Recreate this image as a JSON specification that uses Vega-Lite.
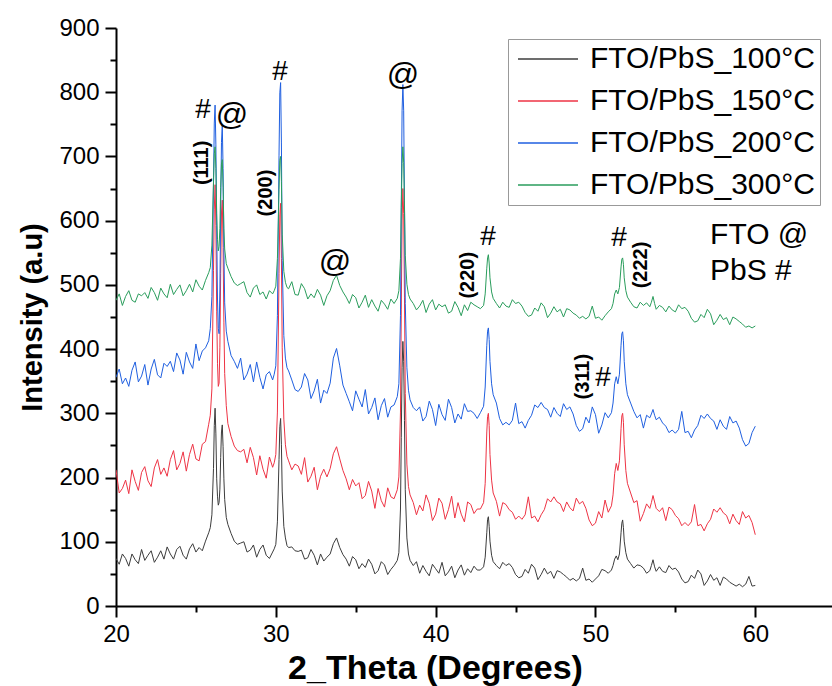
{
"$schema": "https://vega.github.io/schema/vega-lite/v6.json",
"width": 716, "height": 578,
"autosize": {"type": "none"},
"padding": {"left": 116, "top": 28, "right": 0, "bottom": 80},
"background": "white",
"config": {"font": "Liberation Sans", "view": {"stroke": null}},
"encoding": {
  "x": {"field": "x", "type": "quantitative", "scale": {"domain": [20, 64.8], "nice": false, "zero": false},
    "axis": {"values": [20,25,30,35,40,45,50,55,60], "labelExpr": "datum.value % 10 === 0 ? datum.label : ''",
      "tickSize": {"condition": {"test": "datum.value % 10 === 0", "value": 11}, "value": 6},
      "tickColor": "black", "domainColor": "black", "domainWidth": 2, "tickWidth": 2, "grid": false,
      "labelFontSize": 24, "labelColor": "black", "labelPadding": 5, "labelFlush": false,
      "title": "2_Theta (Degrees)", "titleFontSize": 34, "titleFontWeight": "bold", "titleColor": "black",
      "titleX": 319, "titleAlign": "center", "titlePadding": 5}},
  "y": {"field": "y", "type": "quantitative", "scale": {"domain": [0, 900], "nice": false},
    "axis": {"values": [0,50,100,150,200,250,300,350,400,450,500,550,600,650,700,750,800,850,900], "labelExpr": "datum.value % 100 === 0 ? datum.label : ''",
      "tickSize": {"condition": {"test": "datum.value % 100 === 0", "value": 11}, "value": 6},
      "tickColor": "black", "domainColor": "black", "domainWidth": 2, "tickWidth": 2, "grid": false,
      "labelFontSize": 24, "labelColor": "black", "labelPadding": 6, "labelFlush": false,
      "title": "Intensity (a.u)", "titleFontSize": 29, "titleFontWeight": "bold", "titleColor": "black", "titlePadding": 11}}
},
"layer": [
{
"data": {"values": [
{"x":20.0,"a":74,"b":212,"c":356,"d":476},
{"x":20.2,"a":65,"b":176,"c":369,"d":486},
{"x":20.4,"a":81,"b":183,"c":346,"d":468},
{"x":20.6,"a":74,"b":196,"c":355,"d":482},
{"x":20.8,"a":62,"b":175,"c":342,"d":491},
{"x":21.0,"a":81,"b":212,"c":367,"d":476},
{"x":21.2,"a":72,"b":194,"c":380,"d":473},
{"x":21.4,"a":66,"b":180,"c":349,"d":486},
{"x":21.6,"a":88,"b":208,"c":358,"d":483},
{"x":21.8,"a":71,"b":217,"c":376,"d":488},
{"x":22.0,"a":79,"b":195,"c":344,"d":479},
{"x":22.2,"a":86,"b":186,"c":369,"d":496},
{"x":22.4,"a":68,"b":215,"c":384,"d":488},
{"x":22.6,"a":76,"b":228,"c":360,"d":476},
{"x":22.8,"a":86,"b":205,"c":355,"d":495},
{"x":23.0,"a":73,"b":215,"c":378,"d":486},
{"x":23.2,"a":92,"b":202,"c":373,"d":480},
{"x":23.4,"a":81,"b":228,"c":381,"d":501},
{"x":23.6,"a":73,"b":242,"c":365,"d":485},
{"x":23.8,"a":88,"b":212,"c":394,"d":493},
{"x":24.0,"a":93,"b":222,"c":383,"d":500},
{"x":24.2,"a":79,"b":240,"c":361,"d":483},
{"x":24.4,"a":73,"b":210,"c":395,"d":491},
{"x":24.6,"a":89,"b":236,"c":380,"d":501},
{"x":24.8,"a":97,"b":252,"c":370,"d":489},
{"x":25.0,"a":84,"b":229,"c":408,"d":508},
{"x":25.2,"a":91,"b":226,"c":382,"d":498},
{"x":25.4,"a":86,"b":252,"c":397,"d":492},
{"x":25.6,"a":101,"b":256,"c":402,"d":507},
{"x":25.8,"a":114,"b":283,"c":413,"d":519},
{"x":25.9,"a":122,"b":297,"c":432,"d":527},
{"x":26.0,"a":142,"b":338,"c":482,"d":562},
{"x":26.1,"a":214,"b":522,"c":658,"d":660},
{"x":26.15,"a":281,"b":618,"c":752,"d":704},
{"x":26.2,"a":308,"b":656,"c":780,"d":715},
{"x":26.25,"a":268,"b":592,"c":718,"d":681},
{"x":26.3,"a":198,"b":458,"c":592,"d":611},
{"x":26.35,"a":171,"b":378,"c":478,"d":571},
{"x":26.4,"a":157,"b":342,"c":432,"d":553},
{"x":26.45,"a":161,"b":347,"c":424,"d":560},
{"x":26.5,"a":182,"b":402,"c":492,"d":588},
{"x":26.55,"a":231,"b":518,"c":618,"d":652},
{"x":26.6,"a":271,"b":612,"c":722,"d":688},
{"x":26.65,"a":282,"b":632,"c":749,"d":695},
{"x":26.7,"a":248,"b":558,"c":681,"d":652},
{"x":26.75,"a":198,"b":442,"c":558,"d":588},
{"x":26.8,"a":166,"b":362,"c":472,"d":556},
{"x":26.9,"a":138,"b":312,"c":428,"d":533},
{"x":27.0,"a":127,"b":284,"c":412,"d":526},
{"x":27.2,"a":113,"b":264,"c":390,"d":513},
{"x":27.4,"a":101,"b":249,"c":381,"d":503},
{"x":27.6,"a":96,"b":242,"c":370,"d":499},
{"x":27.8,"a":98,"b":240,"c":386,"d":502},
{"x":28.0,"a":100,"b":244,"c":352,"d":505},
{"x":28.2,"a":84,"b":223,"c":361,"d":488},
{"x":28.4,"a":87,"b":247,"c":376,"d":481},
{"x":28.6,"a":95,"b":231,"c":349,"d":495},
{"x":28.8,"a":76,"b":204,"c":380,"d":500},
{"x":29.0,"a":88,"b":234,"c":356,"d":485},
{"x":29.2,"a":95,"b":213,"c":338,"d":489},
{"x":29.4,"a":79,"b":199,"c":360,"d":478},
{"x":29.6,"a":74,"b":232,"c":365,"d":491},
{"x":29.8,"a":84,"b":216,"c":352,"d":486},
{"x":29.9,"a":89,"b":223,"c":361,"d":491},
{"x":30.0,"a":96,"b":236,"c":374,"d":498},
{"x":30.1,"a":131,"b":302,"c":452,"d":541},
{"x":30.2,"a":228,"b":518,"c":702,"d":648},
{"x":30.25,"a":279,"b":609,"c":799,"d":694},
{"x":30.3,"a":292,"b":627,"c":815,"d":700},
{"x":30.35,"a":251,"b":541,"c":721,"d":661},
{"x":30.4,"a":179,"b":402,"c":538,"d":579},
{"x":30.5,"a":124,"b":291,"c":421,"d":521},
{"x":30.6,"a":106,"b":251,"c":386,"d":504},
{"x":30.7,"a":94,"b":233,"c":371,"d":496},
{"x":30.8,"a":91,"b":226,"c":366,"d":494},
{"x":31.0,"a":92,"b":212,"c":352,"d":505},
{"x":31.2,"a":86,"b":221,"c":337,"d":485},
{"x":31.4,"a":85,"b":218,"c":334,"d":484},
{"x":31.6,"a":87,"b":205,"c":341,"d":502},
{"x":31.8,"a":73,"b":231,"c":362,"d":494},
{"x":32.0,"a":75,"b":193,"c":352,"d":478},
{"x":32.2,"a":88,"b":202,"c":323,"d":486},
{"x":32.4,"a":79,"b":216,"c":335,"d":480},
{"x":32.6,"a":64,"b":181,"c":353,"d":493},
{"x":32.8,"a":81,"b":202,"c":316,"d":484},
{"x":33.0,"a":70,"b":213,"c":336,"d":468},
{"x":33.2,"a":76,"b":201,"c":331,"d":483},
{"x":33.4,"a":81,"b":214,"c":347,"d":491},
{"x":33.6,"a":97,"b":237,"c":386,"d":507},
{"x":33.8,"a":106,"b":248,"c":401,"d":515},
{"x":34.0,"a":91,"b":229,"c":374,"d":499},
{"x":34.2,"a":80,"b":211,"c":344,"d":489},
{"x":34.4,"a":73,"b":198,"c":331,"d":481},
{"x":34.6,"a":62,"b":181,"c":318,"d":471},
{"x":34.8,"a":77,"b":197,"c":304,"d":485},
{"x":35.0,"a":72,"b":187,"c":335,"d":480},
{"x":35.2,"a":58,"b":192,"c":322,"d":464},
{"x":35.4,"a":66,"b":167,"c":310,"d":473},
{"x":35.6,"a":60,"b":172,"c":337,"d":484},
{"x":35.8,"a":73,"b":194,"c":299,"d":465},
{"x":36.0,"a":65,"b":179,"c":309,"d":477},
{"x":36.2,"a":50,"b":152,"c":324,"d":467},
{"x":36.4,"a":55,"b":183,"c":290,"d":459},
{"x":36.6,"a":69,"b":164,"c":312,"d":476},
{"x":36.8,"a":64,"b":154,"c":323,"d":470},
{"x":37.0,"a":49,"b":184,"c":294,"d":462},
{"x":37.2,"a":57,"b":170,"c":310,"d":478},
{"x":37.4,"a":63,"b":167,"c":313,"d":471},
{"x":37.6,"a":71,"b":181,"c":326,"d":479},
{"x":37.7,"a":83,"b":201,"c":346,"d":491},
{"x":37.8,"a":151,"b":302,"c":452,"d":541},
{"x":37.85,"a":262,"b":461,"c":621,"d":621},
{"x":37.9,"a":371,"b":601,"c":771,"d":689},
{"x":37.95,"a":412,"b":650,"c":812,"d":715},
{"x":38.0,"a":381,"b":611,"c":771,"d":691},
{"x":38.05,"a":289,"b":481,"c":631,"d":621},
{"x":38.1,"a":181,"b":331,"c":471,"d":546},
{"x":38.2,"a":106,"b":221,"c":371,"d":501},
{"x":38.3,"a":81,"b":186,"c":336,"d":485},
{"x":38.4,"a":71,"b":173,"c":321,"d":478},
{"x":38.6,"a":63,"b":161,"c":309,"d":471},
{"x":38.8,"a":69,"b":142,"c":304,"d":461},
{"x":39.0,"a":51,"b":157,"c":310,"d":467},
{"x":39.2,"a":63,"b":148,"c":288,"d":476},
{"x":39.4,"a":54,"b":173,"c":295,"d":457},
{"x":39.6,"a":47,"b":160,"c":319,"d":470},
{"x":39.8,"a":65,"b":133,"c":306,"d":477},
{"x":40.0,"a":58,"b":143,"c":281,"d":461},
{"x":40.2,"a":51,"b":168,"c":314,"d":470},
{"x":40.4,"a":68,"b":160,"c":298,"d":466},
{"x":40.6,"a":47,"b":135,"c":289,"d":469},
{"x":40.8,"a":53,"b":150,"c":322,"d":456},
{"x":41.0,"a":62,"b":171,"c":309,"d":459},
{"x":41.2,"a":44,"b":137,"c":285,"d":474},
{"x":41.4,"a":56,"b":161,"c":299,"d":465},
{"x":41.6,"a":64,"b":143,"c":291,"d":452},
{"x":41.8,"a":48,"b":131,"c":315,"d":469},
{"x":42.0,"a":58,"b":162,"c":303,"d":460},
{"x":42.2,"a":52,"b":158,"c":304,"d":473},
{"x":42.4,"a":62,"b":144,"c":300,"d":469},
{"x":42.6,"a":56,"b":151,"c":292,"d":466},
{"x":42.8,"a":56,"b":151,"c":301,"d":463},
{"x":43.0,"a":61,"b":161,"c":311,"d":468},
{"x":43.1,"a":76,"b":191,"c":341,"d":486},
{"x":43.2,"a":114,"b":271,"c":406,"d":526},
{"x":43.25,"a":135,"b":295,"c":428,"d":542},
{"x":43.3,"a":139,"b":300,"c":433,"d":547},
{"x":43.35,"a":124,"b":281,"c":415,"d":534},
{"x":43.4,"a":101,"b":236,"c":381,"d":511},
{"x":43.5,"a":79,"b":196,"c":346,"d":489},
{"x":43.6,"a":69,"b":176,"c":329,"d":479},
{"x":43.8,"a":63,"b":163,"c":316,"d":471},
{"x":44.0,"a":58,"b":140,"c":292,"d":464},
{"x":44.2,"a":68,"b":161,"c":282,"d":473},
{"x":44.4,"a":63,"b":158,"c":286,"d":467},
{"x":44.6,"a":66,"b":150,"c":282,"d":465},
{"x":44.8,"a":60,"b":146,"c":289,"d":477},
{"x":45.0,"a":49,"b":135,"c":316,"d":471},
{"x":45.2,"a":44,"b":140,"c":284,"d":473},
{"x":45.4,"a":46,"b":135,"c":287,"d":467},
{"x":45.6,"a":57,"b":142,"c":277,"d":457},
{"x":45.8,"a":51,"b":170,"c":289,"d":451},
{"x":46.0,"a":65,"b":137,"c":297,"d":453},
{"x":46.2,"a":59,"b":140,"c":313,"d":464},
{"x":46.4,"a":41,"b":131,"c":309,"d":459},
{"x":46.6,"a":49,"b":142,"c":317,"d":472},
{"x":46.8,"a":59,"b":150,"c":309,"d":466},
{"x":47.0,"a":50,"b":167,"c":306,"d":449},
{"x":47.2,"a":54,"b":162,"c":294,"d":456},
{"x":47.4,"a":43,"b":170,"c":309,"d":466},
{"x":47.6,"a":55,"b":162,"c":300,"d":458},
{"x":47.8,"a":53,"b":159,"c":295,"d":462},
{"x":48.0,"a":49,"b":147,"c":315,"d":450},
{"x":48.2,"a":45,"b":162,"c":306,"d":463},
{"x":48.4,"a":40,"b":153,"c":310,"d":461},
{"x":48.6,"a":43,"b":148,"c":299,"d":456},
{"x":48.8,"a":39,"b":168,"c":281,"d":453},
{"x":49.0,"a":43,"b":159,"c":272,"d":448},
{"x":49.2,"a":59,"b":163,"c":276,"d":451},
{"x":49.4,"a":40,"b":152,"c":294,"d":447},
{"x":49.6,"a":42,"b":134,"c":285,"d":451},
{"x":49.8,"a":37,"b":125,"c":310,"d":467},
{"x":50.0,"a":42,"b":129,"c":298,"d":448},
{"x":50.2,"a":47,"b":147,"c":269,"d":450},
{"x":50.4,"a":57,"b":137,"c":282,"d":445},
{"x":50.6,"a":55,"b":165,"c":301,"d":452},
{"x":50.8,"a":51,"b":146,"c":293,"d":458},
{"x":51.0,"a":56,"b":156,"c":301,"d":463},
{"x":51.1,"a":63,"b":173,"c":316,"d":471},
{"x":51.2,"a":73,"b":206,"c":346,"d":486},
{"x":51.3,"a":78,"b":222,"c":357,"d":492},
{"x":51.4,"a":72,"b":211,"c":346,"d":486},
{"x":51.5,"a":81,"b":226,"c":361,"d":496},
{"x":51.6,"a":114,"b":276,"c":406,"d":528},
{"x":51.65,"a":129,"b":296,"c":424,"d":540},
{"x":51.7,"a":134,"b":300,"c":427,"d":542},
{"x":51.75,"a":122,"b":286,"c":413,"d":532},
{"x":51.8,"a":101,"b":251,"c":381,"d":511},
{"x":51.9,"a":83,"b":211,"c":346,"d":491},
{"x":52.0,"a":73,"b":191,"c":329,"d":481},
{"x":52.2,"a":66,"b":176,"c":316,"d":473},
{"x":52.4,"a":59,"b":161,"c":303,"d":466},
{"x":52.6,"a":64,"b":164,"c":293,"d":464},
{"x":52.8,"a":63,"b":132,"c":298,"d":473},
{"x":53.0,"a":59,"b":144,"c":277,"d":468},
{"x":53.2,"a":51,"b":159,"c":297,"d":472},
{"x":53.4,"a":55,"b":152,"c":293,"d":466},
{"x":53.5,"a":63,"b":161,"c":299,"d":473},
{"x":53.6,"a":72,"b":172,"c":306,"d":482},
{"x":53.7,"a":61,"b":162,"c":297,"d":471},
{"x":53.8,"a":54,"b":152,"c":290,"d":462},
{"x":54.0,"a":61,"b":147,"c":294,"d":468},
{"x":54.2,"a":54,"b":153,"c":285,"d":465},
{"x":54.4,"a":52,"b":133,"c":280,"d":458},
{"x":54.6,"a":63,"b":154,"c":270,"d":467},
{"x":54.8,"a":57,"b":150,"c":274,"d":461},
{"x":55.0,"a":59,"b":141,"c":269,"d":458},
{"x":55.2,"a":53,"b":136,"c":275,"d":469},
{"x":55.4,"a":42,"b":125,"c":303,"d":463},
{"x":55.6,"a":36,"b":130,"c":270,"d":465},
{"x":55.8,"a":38,"b":125,"c":272,"d":459},
{"x":56.0,"a":48,"b":131,"c":262,"d":448},
{"x":56.2,"a":43,"b":158,"c":274,"d":442},
{"x":56.4,"a":56,"b":125,"c":281,"d":444},
{"x":56.6,"a":50,"b":127,"c":297,"d":454},
{"x":56.8,"a":32,"b":117,"c":292,"d":449},
{"x":57.0,"a":39,"b":128,"c":299,"d":462},
{"x":57.2,"a":49,"b":135,"c":292,"d":455},
{"x":57.4,"a":40,"b":151,"c":288,"d":438},
{"x":57.6,"a":44,"b":146,"c":275,"d":445},
{"x":57.8,"a":32,"b":153,"c":290,"d":454},
{"x":58.0,"a":45,"b":145,"c":280,"d":446},
{"x":58.2,"a":42,"b":141,"c":275,"d":449},
{"x":58.4,"a":37,"b":128,"c":295,"d":438},
{"x":58.6,"a":34,"b":143,"c":285,"d":450},
{"x":58.8,"a":31,"b":133,"c":288,"d":447},
{"x":59.0,"a":34,"b":127,"c":277,"d":443},
{"x":59.2,"a":30,"b":147,"c":259,"d":439},
{"x":59.4,"a":34,"b":137,"c":249,"d":434},
{"x":59.6,"a":46,"b":141,"c":253,"d":436},
{"x":59.8,"a":31,"b":130,"c":270,"d":433},
{"x":60.0,"a":32,"b":111,"c":280,"d":436}
]},
"transform": [{"fold": ["a", "b", "c", "d"], "as": ["s", "y"]}],
"mark": {"type": "line", "strokeWidth": 1, "clip": true},
"encoding": {
  "color": {"field": "s", "type": "nominal",
    "scale": {"domain": ["a", "b", "c", "d"], "range": ["#3c3c3c", "#ee3344", "#1f5fe0", "#2a9d5c"]},
    "legend": {"orient": "none", "legendX": 392, "legendY": 11, "title": null,
      "symbolType": "M-1,0H5", "symbolSize": 400, "symbolStrokeWidth": 1.5,
      "labelFontSize": 30, "labelColor": "black", "labelOffset": 47, "labelLimit": 500,
      "strokeColor": "#999999", "fillColor": "white", "padding": 5, "rowPadding": 12,
      "labelExpr": "({'a':'FTO/PbS_100°C','b':'FTO/PbS_150°C','c':'FTO/PbS_200°C','d':'FTO/PbS_300°C'})[datum.label]"}}
}
},
{
"data": {"values": [
{"x":25.44,"y":772,"t":"#"},
{"x":27.26,"y":765,"t":"@"},
{"x":30.26,"y":832,"t":"#"},
{"x":37.96,"y":827,"t":"@"},
{"x":33.70,"y":536,"t":"@"},
{"x":43.28,"y":575,"t":"#"},
{"x":51.48,"y":573,"t":"#"},
{"x":50.47,"y":355,"t":"#"}
]},
"mark": {"type": "text", "align": "center", "baseline": "middle", "color": "black"},
"encoding": {
  "text": {"field": "t"},
  "size": {"condition": {"test": "datum.t === '@'", "value": 32}, "value": 28}
}
},
{
"data": {"values": [
{"x":25.38,"y":690,"t":"(111)"},
{"x":29.39,"y":643,"t":"(200)"},
{"x":42.03,"y":515,"t":"(220)"},
{"x":52.85,"y":531,"t":"(222)"},
{"x":49.22,"y":357,"t":"(311)"}
]},
"mark": {"type": "text", "align": "center", "baseline": "middle", "angle": 270, "fontSize": 20, "fontWeight": "bold", "color": "black"},
"encoding": {"text": {"field": "t"}}
},
{
"data": {"values": [
{"x":57.17,"y":578,"t":"FTO @"},
{"x":57.17,"y":522,"t":"PbS #"}
]},
"mark": {"type": "text", "align": "left", "baseline": "middle", "fontSize": 30, "color": "black"},
"encoding": {"text": {"field": "t"}}
}
]
}
